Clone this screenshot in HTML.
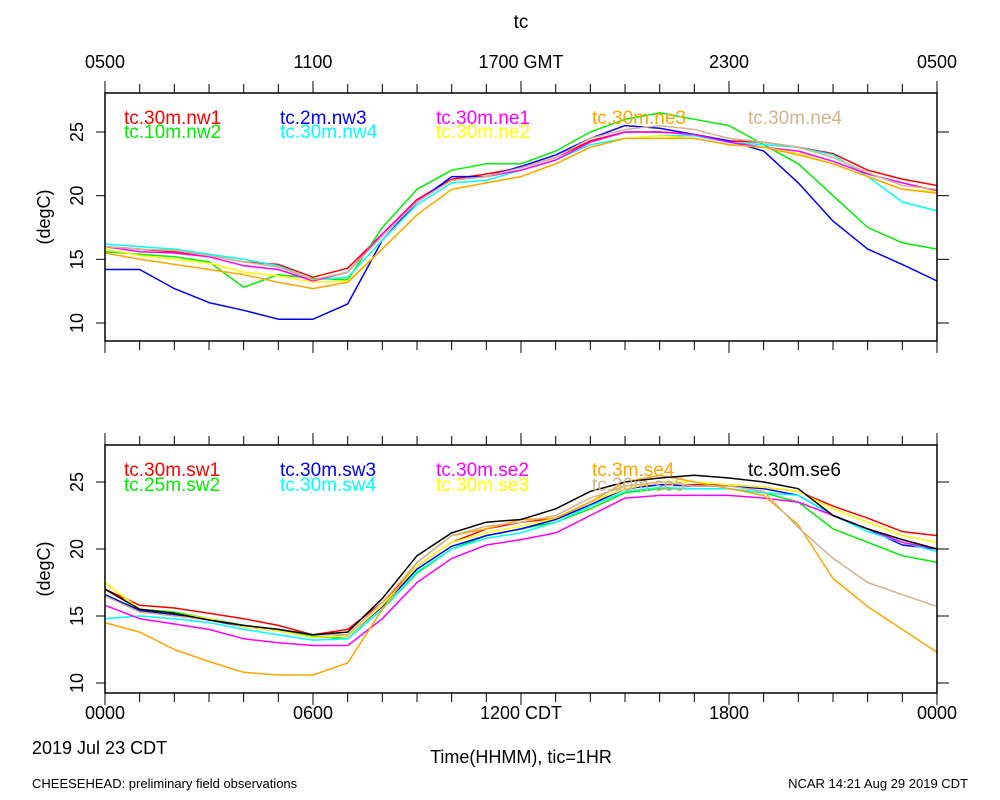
<!DOCTYPE html>
<html><head><meta charset="utf-8"><style>
body{margin:0;background:#fff}
svg{display:block;font-family:"Liberation Sans",sans-serif}
</style></head><body>
<svg id="c" width="1000" height="800">
<text x="521" y="28" font-size="19" text-anchor="middle">tc</text>
<text x="32" y="754" font-size="18">2019 Jul 23 CDT</text>
<text x="521" y="763" font-size="18" text-anchor="middle">Time(HHMM), tic=1HR</text>
<text x="32" y="788" font-size="13">CHEESEHEAD: preliminary field observations</text>
<text x="968" y="788" font-size="13" text-anchor="end">NCAR 14:21 Aug 29 2019 CDT</text>
</svg>
<script>
const hours=[0,1,2,3,4,5,6,7,8,9,10,11,12,13,14,15,16,17,18,19,20,21,22,23,24];
const topTickLabels=["0500","1100","1700 GMT","2300","0500"];
const bottomTickLabels=["0000","0600","1200 CDT","1800","0000"];
const yTicks=[10,15,20,25];
const nw1=[16,15.8,15.6,15.3,14.8,14.6,13.6,14.3,17,19.7,21.3,21.7,22.2,23,24.3,25,25,24.8,24.3,24.2,23.8,23.3,22,21.3,20.8];
const nw2=[15.6,15.4,15.2,14.8,12.8,13.8,13.5,13.4,17.5,20.5,22,22.5,22.5,23.5,25,26,26.5,26,25.5,24,22.5,20,17.5,16.3,15.8];
const nw3=[14.2,14.2,12.7,11.6,11,10.3,10.3,11.5,16.5,19.5,21.5,21.5,22.3,23.2,24.5,25.5,25.3,24.8,24.3,23.5,21,18,15.8,14.6,13.3];
const nw4=[16.2,16,15.8,15.4,15,14.5,13.4,13.6,16.5,19.3,21,21.2,22,22.8,24,24.5,24.7,24.7,24.2,24,23.8,23.2,21.5,19.5,18.8];
const ne1=[16,15.6,15.5,15.2,14.5,14.2,13.3,14,17,19.6,21.2,21.5,22,22.8,24.2,25,25,24.8,24.2,23.8,23.5,22.7,21.7,21,20.4];
const ne2=[15.8,15.3,15,14.7,14,13.7,13.2,13.3,15.8,18.5,20.5,21,21.5,22.5,23.8,24.5,24.7,24.5,24,23.8,23.3,22.5,21.5,20.5,20.3];
const ne3=[15.5,15,14.6,14.2,13.8,13.2,12.7,13.2,15.8,18.5,20.5,21,21.5,22.5,23.8,24.5,24.5,24.5,24,23.8,23.2,22.5,21.5,20.5,20.2];
const ne4=[16,15.8,15.7,15.3,14.8,14.4,13.4,14,16.8,19.5,21.2,21.5,22.2,23,24.5,25.2,25.5,25.2,24.5,24.2,23.8,23,21.8,20.8,20.5];
const sw1=[17,15.8,15.6,15.2,14.8,14.3,13.6,14,16,18.7,20.5,21.5,22,22.3,23.5,24.5,24.8,24.8,24.8,24.6,24.3,23.2,22.3,21.3,21];
const sw2=[16.5,15.5,15.3,14.8,14.3,14,13.5,13.3,15.5,18.2,20,21,21.5,22,23,24.2,24.5,24.5,24.5,24.2,23.5,21.5,20.5,19.5,19];
const sw3=[16.6,15.4,15.1,14.7,14.2,13.9,13.4,13.5,15.7,18.5,20.2,21,21.5,22.2,23.3,24.5,24.8,24.7,24.7,24.5,24,22.5,21.5,20.3,20];
const sw4=[14.8,15,14.8,14.5,14,13.6,13.2,13.3,15.5,18.3,20,20.8,21.2,22,23.2,24.3,24.6,24.5,24.5,24.2,24,22.5,21.3,20.5,19.8];
const se2=[15.8,14.8,14.4,14,13.3,13,12.8,12.8,14.8,17.5,19.3,20.3,20.7,21.2,22.5,23.8,24,24,24,23.8,23.5,22.5,21.5,20.5,20];
const se3=[17.5,15.5,15.2,14.8,14.2,13.9,13.4,13.5,15.8,18.7,20.5,21.2,21.7,22.3,23.5,24.5,25,25,24.8,24.6,24.3,23,22,21,20.5];
const se4=[14.5,13.8,12.5,11.6,10.8,10.6,10.6,11.5,15.5,19,21,21.5,22.2,22.3,23.5,25,25.5,25,24.5,24,21.8,17.8,15.7,14,12.3];
const se5=[16.5,15.3,15,14.7,14.3,14,13.6,13.6,16,19,21,21.7,22,22.5,23.8,24.7,25,24.7,24.7,24.3,21.6,19.3,17.5,16.6,15.7];
const se6=[17,15.5,15.2,14.7,14.3,14,13.6,13.8,16.3,19.5,21.2,22,22.2,23,24.3,25,25.3,25.5,25.3,25,24.5,22.5,21.5,20.7,20];

const NS="http://www.w3.org/2000/svg";
const svg=document.getElementById('c');
function mk(t,a,p){const e=document.createElementNS(NS,t);for(const k in a)e.setAttribute(k,a[k]);(p||svg).appendChild(e);return e;}
const X0=105,X1=937;
function xs(h){return X0+(X1-X0)*h/24;}

function panel(name,top,bot,v10,v25,series,legend,showTop){
  const g=mk('g',{});
  
  
  const ys=v=>v10+(v-10)*(v25-v10)/15;
  series.forEach(s=>{
    const d=hours.map((h,i)=>(i?'L':'M')+xs(h).toFixed(1)+','+ys(s.data[i]).toFixed(1)).join(' ');
    const p=mk('path',{d:d,fill:'none',stroke:s.color,'stroke-width':1.5,'stroke-linejoin':'round'},g);
    
    
  });
  const f=mk('rect',{x:X0,y:top,width:X1-X0,height:bot-top,fill:'none',stroke:'#000','stroke-width':1.5},g);
  
  
  hours.forEach(h=>{
    const L=h%6===0?12:9;
    mk('line',{x1:xs(h),x2:xs(h),y1:top,y2:top-L,stroke:'#000','stroke-width':1},g);
    mk('line',{x1:xs(h),x2:xs(h),y1:bot,y2:bot+L,stroke:'#000','stroke-width':1},g);
  });
  yTicks.forEach(v=>{
    const y=ys(v);
    mk('line',{x1:X0,x2:X0-9,y1:y,y2:y,stroke:'#000'},g);
    mk('line',{x1:X1,x2:X1+12,y1:y,y2:y,stroke:'#000'},g);
    const t=mk('text',{x:0,y:0,'font-size':18,'text-anchor':'middle',transform:`translate(${X0-22},${y}) rotate(-90)`},g);
    t.textContent=v;
    
    
  });
  const yt=mk('text',{x:0,y:0,'font-size':18,'text-anchor':'middle',transform:`translate(${50},${(top+bot)/2}) rotate(-90)`},g);
  yt.textContent='(degC)';
  
  
  if(showTop){
    topTickLabels.forEach((l,i)=>{
      const t=mk('text',{x:xs(i*6),y:top-25,'font-size':18,'text-anchor':'middle'},g);
      t.textContent=l;
      
      
    });
  } else {
    bottomTickLabels.forEach((l,i)=>{
      const t=mk('text',{x:xs(i*6),y:bot+26,'font-size':18,'text-anchor':'middle'},g);
      t.textContent=l;
      
      
    });
  }
  legend.forEach(L=>{
    const t=mk('text',{x:L.x,y:L.y,'font-size':19,fill:L.color},g);
    t.textContent=L.name;
    
    
  });
}
const topS=[{name:'tc.30m.nw1',color:'#f00',data:nw1},{name:'tc.10m.nw2',color:'#0e0',data:nw2},{name:'tc.2m.nw3',color:'#00f',data:nw3},{name:'tc.30m.nw4',color:'#0ff',data:nw4},{name:'tc.30m.ne1',color:'#f0f',data:ne1},{name:'tc.30m.ne2',color:'#ff0',data:ne2},{name:'tc.30m.ne3',color:'#ffa500',data:ne3},{name:'tc.30m.ne4',color:'#d2b48c',data:ne4}];
const botS=[{name:'tc.30m.sw1',color:'#f00',data:sw1},{name:'tc.25m.sw2',color:'#0e0',data:sw2},{name:'tc.30m.sw3',color:'#00f',data:sw3},{name:'tc.30m.sw4',color:'#0ff',data:sw4},{name:'tc.30m.se2',color:'#f0f',data:se2},{name:'tc.30m.se3',color:'#ff0',data:se3},{name:'tc.3m.se4',color:'#ffa500',data:se4},{name:'tc.30m.se5',color:'#d2b48c',data:se5},{name:'tc.30m.se6',color:'#000',data:se6}];
const cols=[124,280,436,592,748];
const topLeg=[[0,0,0],[1,0,1],[0,1,2],[1,1,3],[0,2,4],[1,2,5],[0,3,6],[0,4,7]].map(a=>({x:cols[a[1]],y:a[0]?138:124,color:topS[a[2]].color,name:topS[a[2]].name}));
const botLeg=[[0,0,0],[1,0,1],[0,1,2],[1,1,3],[0,2,4],[1,2,5],[0,3,6],[1,3,7],[0,4,8]].map(a=>({x:cols[a[1]],y:a[0]?491:476,color:botS[a[2]].color,name:botS[a[2]].name}));
panel('top',93,341,323,132,topS,topLeg,true);
panel('bottom',445,693,683,482,botS,botLeg,false);
</script>
</body></html>
